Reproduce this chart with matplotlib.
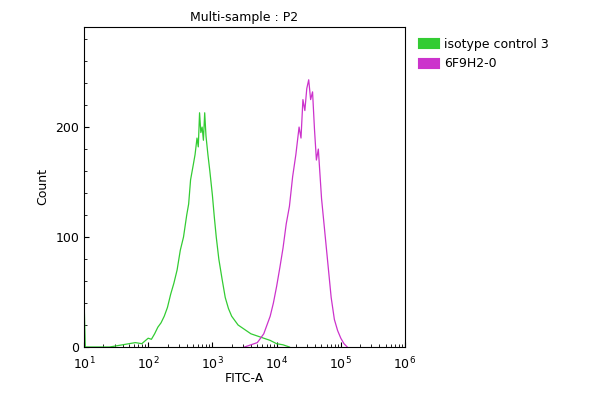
import numpy as np
import matplotlib.pyplot as plt

# Data (log10 of FITC-A, count)
iso_logx = [1.0, 1.0, 1.02, 1.4, 1.6, 1.8, 1.9, 2.0, 2.05, 2.1, 2.15, 2.2, 2.25, 2.3, 2.35, 2.4,
            2.45, 2.5, 2.55, 2.6, 2.63, 2.66, 2.7, 2.73, 2.76, 2.78, 2.8, 2.82, 2.84, 2.86,
            2.88, 2.9, 2.93, 2.96, 3.0, 3.03, 3.06, 3.1, 3.15, 3.2, 3.25, 3.3, 3.4, 3.5,
            3.6, 3.7, 3.8, 3.9, 4.0, 4.1, 4.2]
iso_count = [0, 45, 0, 0, 2, 4, 3, 8, 7, 12, 18, 22, 28, 36, 48, 58, 70, 88, 100, 120, 130,
             152, 165, 175, 190, 182, 213, 195, 200, 188, 213, 192, 175, 160, 138, 118, 100,
             80, 62, 45, 35, 28, 20, 16, 12, 10, 8, 6, 3, 2, 0]
f6_logx = [3.5, 3.6, 3.7, 3.75, 3.8, 3.85, 3.9, 3.95, 4.0, 4.05, 4.1, 4.15, 4.2, 4.25, 4.3,
           4.35, 4.38, 4.41, 4.44, 4.47, 4.5, 4.53, 4.56, 4.59, 4.62, 4.65, 4.7, 4.75, 4.8,
           4.85, 4.9, 4.95, 5.0, 5.05, 5.1]
f6_count = [0, 2, 4, 8, 12, 20, 28, 40, 55, 72, 90, 112, 128, 155, 175, 200, 190, 225, 215,
            235, 243, 225, 232, 198, 170, 180, 135, 105, 75, 45, 25, 15, 8, 3, 0]

fig = plt.figure(figsize=(6, 4), dpi=100)
ax = fig.add_axes([0.14, 0.1325, 0.535, 0.80])
ax.plot(10 ** np.array(iso_logx), iso_count, color='#33cc33', lw=0.9, label='isotype control 3')
ax.plot(10 ** np.array(f6_logx), f6_count, color='#cc33cc', lw=0.9, label='6F9H2-0')
ax.set_xscale('log')
ax.set_xlim(10, 1e6)
ax.set_ylim(0, 291)
ax.set_yticks([0, 100, 200])
ax.set_yticks(np.arange(0, 291, 20), minor=True)
ax.tick_params(axis='both', which='both', direction='in', labelsize=9)
ax.tick_params(axis='x', pad=6)
ax.set_xlabel('FITC-A', fontsize=9, labelpad=0)
ax.set_ylabel('Count', fontsize=9)
ax.set_title('Multi-sample : P2', fontsize=9, pad=4)
ax.legend(loc='upper left', bbox_to_anchor=(1.02, 1.0), frameon=False, fontsize=9,
          handlelength=0.9, handleheight=0.9)
leg = ax.get_legend()
for h in leg.legend_handles:
    h.set_linewidth(8)
fig.savefig('out.png')
